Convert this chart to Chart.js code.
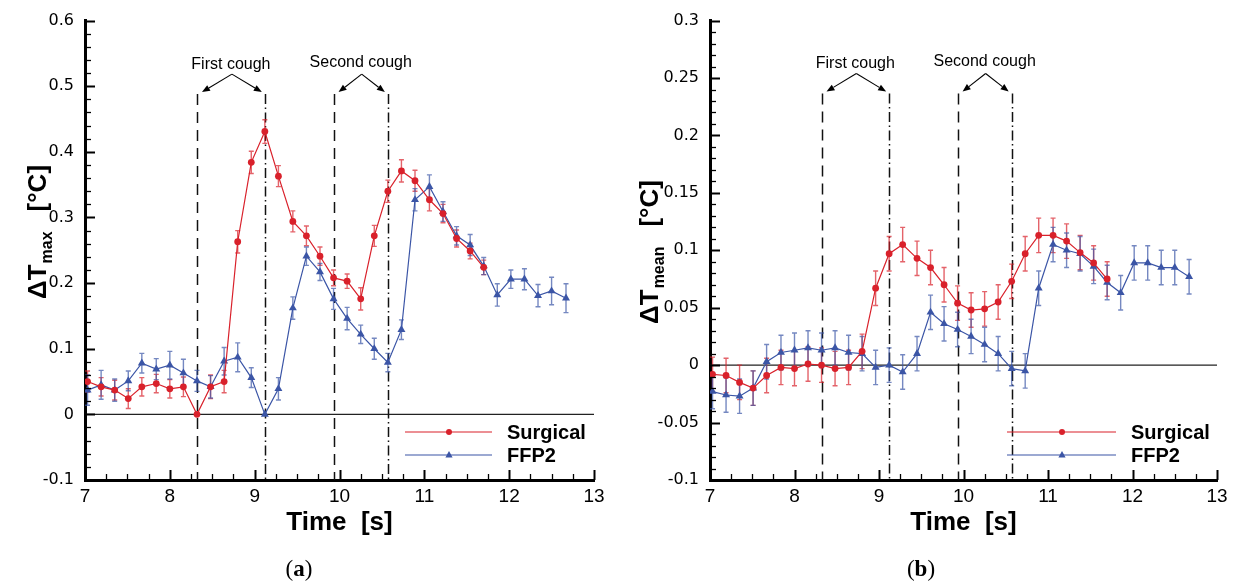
<!DOCTYPE html>
<html><head><meta charset="utf-8">
<script src="https://cdn.jsdelivr.net/npm/chart.js@4.4.1/dist/chart.umd.min.js"></script>
<style>
html,body{margin:0;padding:0;background:#fff;width:1237px;height:586px;overflow:hidden;}
canvas{position:absolute;top:0;}
#cL{left:0;} #cR{left:618px;}
.cap{position:absolute;top:556px;font-family:"Liberation Serif",serif;font-size:23px;color:#000;transform:translateX(-50%);}
</style></head><body>
<canvas id="cL" width="618" height="586"></canvas>
<canvas id="cR" width="619" height="586"></canvas>
<div class="cap" style="left:299px">(<b>a</b>)</div>
<div class="cap" style="left:921px">(<b>b</b>)</div>
<script>
// ---- data ----
const times = [7.03,7.19,7.35,7.51,7.67,7.84,8.00,8.16,8.32,8.48,8.64,8.80,8.96,9.12,9.28,9.45,9.61,9.77,9.93,10.09,10.25,10.41,10.57,10.73,10.89,11.06,11.22,11.38,11.54,11.70,11.86,12.02,12.18,12.34,12.50,12.67];
const seriesNames = ['Surgical','FFP2'];

const maxSurgical = [0.050,0.042,0.037,0.024,0.042,0.047,0.039,0.042,0.000,0.042,0.050,0.263,0.384,0.431,0.363,0.294,0.272,0.241,0.208,0.203,0.176,0.272,0.340,0.371,0.356,0.327,0.306,0.268,0.249,0.224];
const maxFFP2 = [0.037,0.045,0.037,0.051,0.078,0.069,0.075,0.063,0.051,0.042,0.081,0.087,0.056,0.000,0.039,0.162,0.241,0.217,0.176,0.146,0.122,0.100,0.079,0.129,0.327,0.347,0.309,0.272,0.258,0.226,0.182,0.206,0.206,0.181,0.188,0.177];
const maxSurgicalErr = [0.016,0.014,0.015,0.015,0.014,0.014,0.014,0.015,0.000,0.018,0.017,0.017,0.017,0.018,0.016,0.016,0.015,0.014,0.012,0.011,0.017,0.016,0.017,0.017,0.016,0.017,0.014,0.013,0.012,0.011];
const maxFFP2Err = [0.023,0.022,0.017,0.015,0.015,0.016,0.021,0.021,0.016,0.017,0.021,0.022,0.015,0.000,0.017,0.017,0.014,0.013,0.016,0.017,0.014,0.016,0.014,0.015,0.017,0.018,0.015,0.014,0.016,0.013,0.017,0.014,0.016,0.017,0.021,0.022];

const meanSurgical = [-0.008,-0.009,-0.015,-0.020,-0.009,-0.002,-0.003,0.001,0.000,-0.003,-0.002,0.012,0.067,0.097,0.105,0.093,0.085,0.070,0.054,0.048,0.049,0.055,0.073,0.097,0.113,0.113,0.108,0.098,0.089,0.075];
const meanFFP2 = [-0.023,-0.026,-0.027,-0.020,0.003,0.011,0.013,0.015,0.013,0.015,0.011,0.010,-0.002,0.000,-0.006,0.010,0.046,0.036,0.031,0.025,0.018,0.010,-0.003,-0.005,0.067,0.105,0.100,0.097,0.086,0.072,0.063,0.089,0.089,0.085,0.085,0.077];
const meanSurgicalErr = [0.015,0.015,0.015,0.015,0.015,0.015,0.015,0.015,0.015,0.015,0.015,0.015,0.015,0.015,0.015,0.015,0.015,0.015,0.015,0.015,0.015,0.015,0.015,0.015,0.015,0.015,0.015,0.015,0.015,0.015];
const meanFFP2Err = [0.015,0.015,0.015,0.015,0.015,0.015,0.015,0.015,0.015,0.015,0.015,0.015,0.015,0.015,0.015,0.015,0.015,0.015,0.015,0.015,0.015,0.015,0.015,0.015,0.015,0.015,0.015,0.015,0.015,0.015,0.015,0.015,0.015,0.015,0.015,0.015];

const xTicks = [7,8,9,10,11,12,13];
const xTickLabels = ['7','8','9','10','11','12','13'];
const yTicksMax = [-0.1,0,0.1,0.2,0.3,0.4,0.5,0.6];
const yTickLabelsMax = ['-0.1','0','0.1','0.2','0.3','0.4','0.5','0.6'];
const yTicksMean = [-0.1,-0.05,0,0.05,0.1,0.15,0.2,0.25,0.3];
const yTickLabelsMean = ['-0.1','-0.05','0','0.05','0.1','0.15','0.2','0.25','0.3'];

const coughStarts = [8.32, 9.93];   // dashed lines
const coughEnds = [9.12, 10.57];    // dash-dot lines
const coughLabels = ['First cough','Second cough'];

// ---- style ----
const RED = '#d9212b', BLUE = '#3b55a6';
const RED_ERR = 'rgba(217,33,43,0.7)', BLUE_ERR = 'rgba(59,85,166,0.7)';
const FONT = '"Liberation Sans", Arial, sans-serif';

function pts(vals){ return vals.map((v,i)=>({x:times[i], y:v})); }

function makeChart(id, o){
  const deco = {
    id:'deco',
    beforeDatasetsDraw(chart){
      const {ctx, chartArea:a, scales:{x,y}} = chart;
      ctx.save();
      const y0 = y.getPixelForValue(0);
      ctx.strokeStyle='#222'; ctx.lineWidth=1.4;
      ctx.beginPath(); ctx.moveTo(a.left,y0); ctx.lineTo(a.right,y0); ctx.stroke();
      const top = y.getPixelForValue(o.coughTop);
      ctx.strokeStyle='#111'; ctx.lineWidth=1.5;
      coughStarts.forEach(t=>{
        const px = Math.round(x.getPixelForValue(t))+0.5;
        ctx.setLineDash([11,7]);
        ctx.beginPath(); ctx.moveTo(px,top); ctx.lineTo(px,a.bottom); ctx.stroke();
      });
      coughEnds.forEach(t=>{
        const px = Math.round(x.getPixelForValue(t))+0.5;
        ctx.setLineDash([10,3.5,1.5,3.5]);
        ctx.beginPath(); ctx.moveTo(px,top); ctx.lineTo(px,a.bottom); ctx.stroke();
      });
      ctx.setLineDash([]);
      chart.data.datasets.forEach((ds,di)=>{
        const errs = o.errors[di];
        ctx.strokeStyle = di===0?RED_ERR:BLUE_ERR; ctx.lineWidth=1.4;
        ds.data.forEach((p,i)=>{
          const e = errs[i]; if(!e) return;
          const px = x.getPixelForValue(p.x);
          const yt = y.getPixelForValue(p.y+e), yb = y.getPixelForValue(p.y-e);
          ctx.beginPath();
          ctx.moveTo(px,yt); ctx.lineTo(px,yb);
          ctx.moveTo(px-2.5,yt); ctx.lineTo(px+2.5,yt);
          ctx.moveTo(px-2.5,yb); ctx.lineTo(px+2.5,yb);
          ctx.stroke();
        });
      });
      ctx.restore();
    },
    afterDraw(chart){
      const {ctx, chartArea:a, scales:{x,y}} = chart;
      ctx.save();
      ctx.strokeStyle='#000'; ctx.fillStyle='#000';
      const ny = Math.round((y.max-y.min)/o.yMinor);
      for(let k=0;k<=ny;k++){
        const v = y.min + k*o.yMinor;
        const py = Math.round(y.getPixelForValue(v))+0.5;
        const major = k%5===0;
        ctx.lineWidth = major?2:1.3;
        ctx.beginPath(); ctx.moveTo(a.left, py); ctx.lineTo(a.left+(major?10:6), py); ctx.stroke();
      }
      const nx = Math.round((x.max-x.min)/0.25);
      for(let k=0;k<=nx;k++){
        const v = x.min + k*0.25;
        const px = Math.round(x.getPixelForValue(v))+0.5;
        const major = k%4===0;
        ctx.lineWidth = major?2:1.3;
        ctx.beginPath(); ctx.moveTo(px, a.bottom); ctx.lineTo(px, a.bottom-(major?10:6)); ctx.stroke();
      }
      ctx.font = 'bold 26px '+FONT; ctx.textAlign='center'; ctx.textBaseline='middle';
      ctx.fillText('Time  [s]', (a.left+a.right)/2, 523);
      ctx.save();
      ctx.font='bold 26px '+FONT;
      const w1 = ctx.measureText('\u0394T').width;
      ctx.font='bold 16px '+FONT;
      const w2 = ctx.measureText(o.sub).width;
      ctx.font='bold 26px '+FONT;
      const w3 = ctx.measureText('[\u00B0C]').width;
      const gap = 20;
      const W = w1+1+w2+gap+w3;
      ctx.translate(o.yTitleX, o.yTitleCY + W/2);
      ctx.rotate(-Math.PI/2);
      ctx.textAlign='left'; ctx.textBaseline='alphabetic';
      ctx.fillText('\u0394T',0,0);
      ctx.font='bold 16px '+FONT; ctx.fillText(o.sub, w1+1, 6);
      ctx.font='bold 26px '+FONT; ctx.fillText('[\u00B0C]', w1+1+w2+gap, 0);
      ctx.restore();
      const top = y.getPixelForValue(o.coughTop);
      ctx.font='16px '+FONT; ctx.textAlign='center'; ctx.textBaseline='middle'; ctx.lineWidth=1.1;
      coughStarts.forEach((t,k)=>{
        const xs = x.getPixelForValue(t), xe = x.getPixelForValue(coughEnds[k]);
        const ox = (xs+xe)/2+1, oy = top-20;
        ctx.fillText(coughLabels[k], ox-1, top-(k===0?30:32));
        [[xs+5, top-2],[xe-3, top-2]].forEach(([tx,ty])=>{
          const ang = Math.atan2(ty-oy, tx-ox);
          const L = 8, hw = 3.2;
          const bx = tx - L*Math.cos(ang), by = ty - L*Math.sin(ang);
          ctx.beginPath(); ctx.moveTo(ox,oy); ctx.lineTo(bx,by); ctx.stroke();
          ctx.beginPath(); ctx.moveTo(tx,ty);
          ctx.lineTo(bx + hw*Math.sin(ang), by - hw*Math.cos(ang));
          ctx.lineTo(bx - hw*Math.sin(ang), by + hw*Math.cos(ang));
          ctx.closePath(); ctx.fill();
        });
      });
      chart.data.datasets.forEach((ds,k)=>{
        const ly = o.legendY[k];
        ctx.strokeStyle = ds.borderColor; ctx.fillStyle = ds.borderColor; ctx.lineWidth=1.2;
        ctx.beginPath(); ctx.moveTo(o.legendX0, ly); ctx.lineTo(o.legendX1, ly); ctx.stroke();
        const mx = o.legendM;
        ctx.beginPath();
        if(k===0){ ctx.arc(mx, ly, 3, 0, Math.PI*2); }
        else { ctx.moveTo(mx, ly-4); ctx.lineTo(mx+3.6, ly+2.5); ctx.lineTo(mx-3.6, ly+2.5); ctx.closePath(); }
        ctx.fill();
        ctx.fillStyle='#000'; ctx.font='bold 20px '+FONT; ctx.textAlign='left'; ctx.textBaseline='middle';
        ctx.fillText(ds.label, o.legendTX, ly+1);
      });
      ctx.restore();
    }
  };

  return new Chart(document.getElementById(id), {
    type:'line',
    data:{ datasets:[
      {label:seriesNames[0], data:pts(o.s1), borderColor:RED, backgroundColor:RED, borderWidth:1.2,
       pointStyle:'circle', pointRadius:3.4, pointBorderWidth:0, pointBackgroundColor:RED, tension:0},
      {label:seriesNames[1], data:pts(o.s2), borderColor:BLUE, backgroundColor:BLUE, borderWidth:1.2,
       pointStyle:'triangle', pointRadius:4.6, pointBorderWidth:0, pointBackgroundColor:BLUE, tension:0}
    ]},
    options:{
      responsive:false, animation:false, devicePixelRatio:1,
      layout:{padding:o.padding},
      plugins:{legend:{display:false}, tooltip:{enabled:false}},
      scales:{
        x:{type:'linear', min:7, max:13,
           afterBuildTicks:s=>{ s.ticks = xTicks.map(v=>({value:v})); },
           afterFit:s=>{ s.height = 106; },
           ticks:{autoSkip:false, maxRotation:0, padding:5, color:'#000', font:{family:FONT, size:19},
                  callback:(v,i)=>xTickLabels[i]},
           grid:{display:false, drawTicks:false},
           border:{display:true, color:'#000', width:3}},
        y:{type:'linear', min:o.yTicks[0], max:o.yTicks[o.yTicks.length-1],
           afterBuildTicks:s=>{ s.ticks = o.yTicks.map(v=>({value:v})); },
           afterFit:s=>{ s.width = o.yWidth; },
           ticks:{autoSkip:false, padding:11, color:'#000', font:{family:'"DejaVu Sans", sans-serif', size:16},
                  callback:(v,i)=>o.yLabels[i]},
           grid:{display:false, drawTicks:false},
           border:{display:true, color:'#000', width:3}}
      }
    },
    plugins:[deco]
  });
}

makeChart('cL', {
  s1:maxSurgical, s2:maxFFP2, errors:[maxSurgicalErr, maxFFP2Err],
  yTicks:yTicksMax, yLabels:yTickLabelsMax, yMinor:0.02, yWidth:85,
  padding:{left:0, right:24, top:17, bottom:0},
  coughTop:0.488, sub:'max', yTitleX:46, yTitleCY:232,
  legendY:[432,455], legendX0:405, legendX1:492, legendM:449, legendTX:507
});
makeChart('cR', {
  s1:meanSurgical, s2:meanFFP2, errors:[meanSurgicalErr, meanFFP2Err],
  yTicks:yTicksMean, yLabels:yTickLabelsMean, yMinor:0.01, yWidth:92,
  padding:{left:0, right:20, top:17, bottom:0},
  coughTop:0.2365, sub:'mean', yTitleX:40, yTitleCY:252,
  legendY:[432,455], legendX0:389, legendX1:498, legendM:444, legendTX:513
});
</script>
</body></html>
